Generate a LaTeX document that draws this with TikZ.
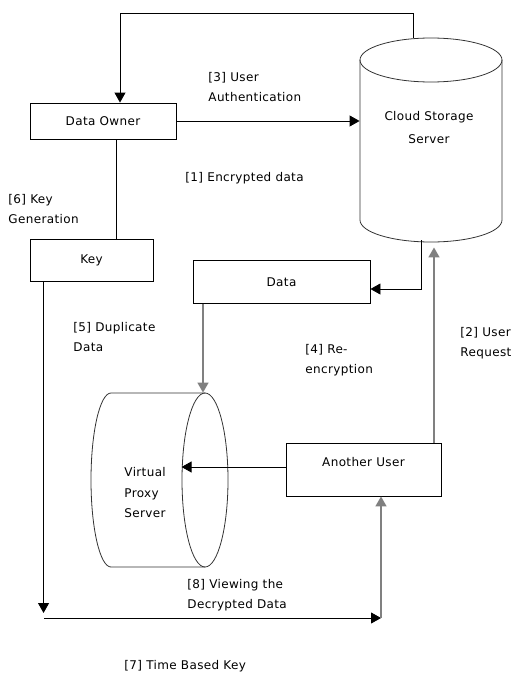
\documentclass[tikz,border=0pt]{standalone}
\usepackage{fontspec}
\setmainfont{DejaVu Sans}[LetterSpace=3]
\usetikzlibrary{arrows.meta}
\begin{document}
\begin{tikzpicture}[x=1pt,y=-1pt,
  font=\fontsize{12}{20.5}\selectfont,
  line width=0.9pt,
  box/.style={draw,rectangle,inner sep=0pt},
  arr/.style={-{Triangle[length=10pt,width=11pt]}},
  garr/.style={-{Triangle[length=10pt,width=11pt]},draw=black!50,fill=black!50,line width=1.5pt},
  lbl/.style={anchor=west,align=left,inner sep=0pt},
  shp/.style={draw=black!80,line width=0.8pt}]
\useasboundingbox (0,0) rectangle (515,677);
% boxes
\node[box,minimum width=146pt,minimum height=36pt] (do) at (103,121) {Data Owner};
\node[box,minimum width=123pt,minimum height=42pt] (key) at (91.5,260) {Key};
\node[box,minimum width=177pt,minimum height=43pt] (data) at (281.5,282) {Data};
\node[box,minimum width=155pt,minimum height=53pt,text height=10pt,text depth=17pt] (au) at (363.5,469.5) {Another User};
% cloud storage cylinder
\draw[shp] (431,60) ellipse [x radius=71pt,y radius=22pt];
\draw[shp] (360,60) -- (360,220) arc[start angle=180,end angle=360,x radius=71pt,y radius=22pt] -- (502,60);
\node[inner sep=0pt,minimum width=142pt,minimum height=204pt] (cloud) at (431,140) {};
\node[align=center,inner sep=0pt,font=\fontsize{12}{23}\selectfont] (cloudtxt) at (429,128) {Cloud Storage\\Server};
% virtual proxy server (horizontal cylinder)
\draw[shp] (205,393) -- (111,393) arc[start angle=90,end angle=270,x radius=20pt,y radius=87pt] -- (205,567);
\draw[shp] (205,480) ellipse [x radius=23pt,y radius=87pt];
\node[inner sep=0pt,minimum width=137pt,minimum height=174pt] (vps) at (159.5,480) {};
\node[lbl] (vpstxt) at (124,493) {Virtual\\Proxy\\Server};
% connectors
\draw[arr] ([xshift=-18pt]cloud.north) -- ++(0,-24) -| ([xshift=17pt]do.north);
\draw[arr] (do.east) -- (cloud.west |- do.east);
\draw ([xshift=13pt]do.south) -- ([xshift=13pt]do.south |- key.north);
\coordinate (bl) at (44,618);
\coordinate (br) at (381,618);
\draw[arr] ([xshift=14pt]key.south west) -- ([xshift=14pt,yshift=5pt]key.south west |- bl);
\draw[arr] (bl) -- (br);
\draw[garr] (br) -- (au.south -| br);
\draw[arr] ([xshift=-10pt,yshift=2pt]cloud.south) |- ([yshift=-7pt]data.east);
\draw[garr] ([xshift=70.5pt]au.north) -- ([xshift=3pt,yshift=-5pt]cloud.south);
\draw[garr] ([xshift=-78.5pt]data.south) -- ([xshift=-78.5pt]data.south |- vps.north);
\draw[arr] ([yshift=2.5pt]au.west) -- ++(-104,0);
% labels
\node[lbl] (l3) at (208,87) {[3] User\\Authentication};
\node[lbl] (l1) at (185,178) {[1] Encrypted data};
\node[lbl] (l6) at (8,209) {[6] Key\\Generation};
\node[lbl] (l5) at (73,337) {[5] Duplicate\\Data};
\node[lbl] (l4) at (305,360) {[4] Re-\\encryption};
\node[lbl] (l2) at (460,343) {[2] User\\Request};
\node[lbl] (l8) at (187,595) {[8] Viewing the\\Decrypted Data};
\node[lbl] (l7) at (124,666) {[7] Time Based Key};
\end{tikzpicture}
\end{document}
